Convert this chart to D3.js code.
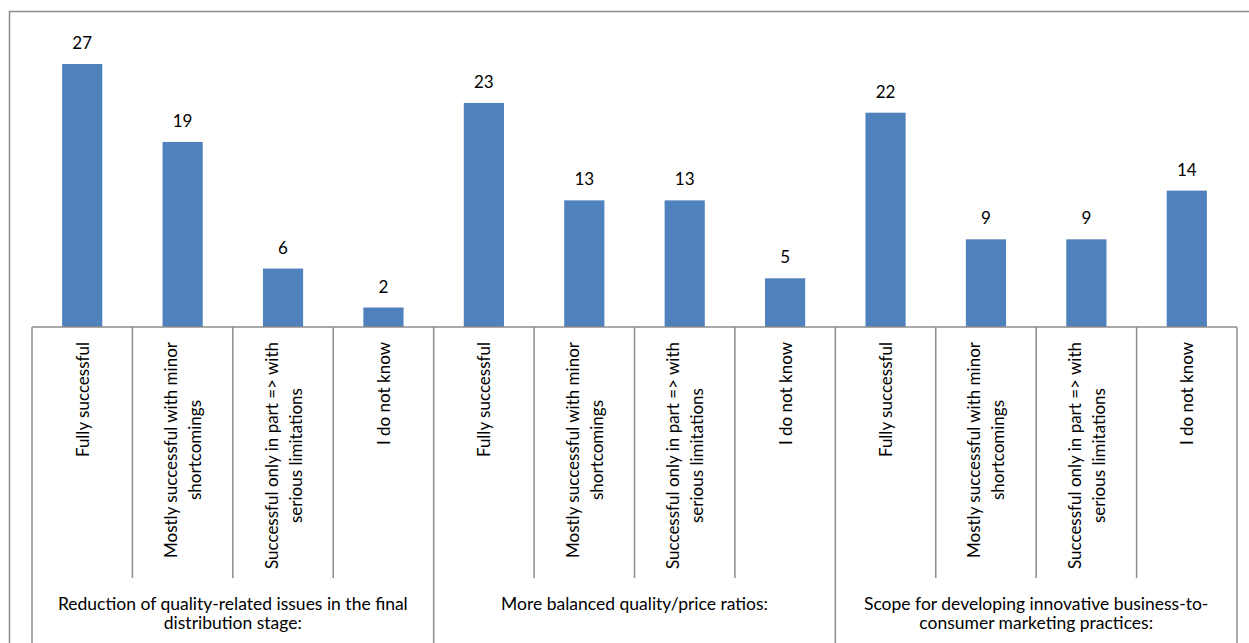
<!DOCTYPE html>
<html>
<head>
    <title>Success ratings</title>
    <style>
        body { margin: 0; background: #ffffff; }
        svg text { font-family: Lato, "Open Sans", sans-serif; fill: #000000; }
    </style>
    <script src="https://d3js.org/d3.v7.min.js"></script>
</head>
<body>
    <svg id="chart" width="1249" height="643"></svg>
    <script>
        // data
        var groups = [
            ["Reduction of quality-related issues in the final", "distribution stage:"],
            ["More balanced quality/price ratios:"],
            ["Scope for developing innovative business-to-", "consumer marketing practices:"]
        ];
        var answers = [
            ["Fully successful"],
            ["Mostly successful with minor", "shortcomings"],
            ["Successful only in part => with", "serious limitations"],
            ["I do not know"]
        ];
        var values = [27, 19, 6, 2, 23, 13, 13, 5, 22, 9, 9, 14];

        var svg = d3.select("#chart");
        var lineColor = "#8c8c8c";
        var barColor = "#4f81bd";

        // outer chart frame (runs past the right/bottom of the picture)
        svg.append("rect")
            .attr("x", 9.5).attr("y", 11.5)
            .attr("width", 1260).attr("height", 660)
            .attr("fill", "none")
            .attr("stroke", lineColor)
            .attr("stroke-width", 1.5);

        var left = 32, right = 1237, axisY = 327;
        var cats = d3.range(values.length);

        var x = d3.scaleBand()
            .domain(cats)
            .range([left, right])
            .paddingInner(0.6)
            .paddingOuter(0.3);

        var xCat = d3.scaleBand().domain(cats).range([left, right]);
        var xGroup = d3.scaleBand().domain(d3.range(groups.length)).range([left, right]);

        var y = d3.scaleLinear()
            .domain([0, 27])
            .range([axisY, 64]);

        // bars
        svg.append("g").selectAll("rect")
            .data(values)
            .join("rect")
            .attr("x", function(d, i) { return x(i); })
            .attr("y", function(d) { return y(d); })
            .attr("width", x.bandwidth())
            .attr("height", function(d) { return axisY - y(d); })
            .attr("fill", barColor);

        // value labels
        svg.append("g").selectAll("text")
            .data(values)
            .join("text")
            .attr("x", function(d, i) { return x(i) + x.bandwidth() / 2; })
            .attr("y", function(d) { return y(d) - 15; })
            .attr("text-anchor", "middle")
            .style("font-size", "17px")
            .text(function(d) { return d; });

        // axis line and separators
        var axisG = svg.append("g")
            .attr("stroke", lineColor)
            .attr("stroke-width", 1.5);

        axisG.append("line")
            .attr("x1", left).attr("x2", right)
            .attr("y1", axisY).attr("y2", axisY);

        cats.concat([values.length]).forEach(function(i) {
            var xx = i < values.length ? xCat(i) : right;
            var isGroupEdge = i % answers.length == 0;
            axisG.append("line")
                .attr("x1", xx).attr("x2", xx)
                .attr("y1", axisY)
                .attr("y2", isGroupEdge ? 650 : 578);
        });

        // rotated answer labels
        cats.forEach(function(i) {
            var lines = answers[i % answers.length];
            var cx = xCat(i) + xCat.bandwidth() / 2;
            var g = svg.append("g")
                .attr("transform", "translate(" + cx + ",342) rotate(-90)");
            var texts = g.selectAll("text")
                .data(lines)
                .join("text")
                .attr("y", function(d, k) { return (k - (lines.length - 1) / 2) * 24; })
                .attr("text-anchor", "middle")
                .attr("dominant-baseline", "central")
                .style("font-size", "17px")
                .text(function(d) { return d; });
            var maxLen = 0;
            texts.each(function() { maxLen = Math.max(maxLen, this.getComputedTextLength()); });
            texts.attr("x", -maxLen / 2);
        });

        // group labels
        groups.forEach(function(lines, gi) {
            var cx = xGroup(gi) + xGroup.bandwidth() / 2;
            svg.append("g").selectAll("text")
                .data(lines)
                .join("text")
                .attr("x", cx)
                .attr("y", function(d, k) { return 610 + k * 19; })
                .attr("text-anchor", "middle")
                .style("font-size", "17.5px")
                .text(function(d) { return d; });
        });
    </script>
</body>
</html>
